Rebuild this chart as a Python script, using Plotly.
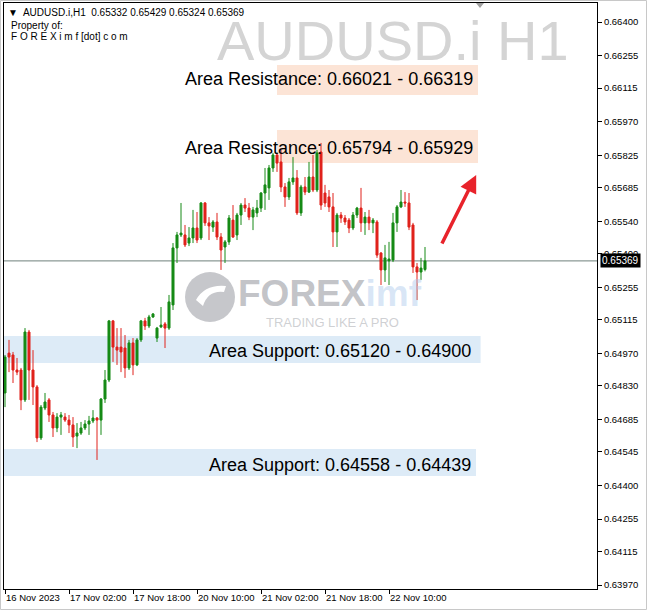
import plotly.graph_objects as go

# ---------------- data (AUDUSD.i H1) ----------------
opens = [0.64799,0.64971,0.64963,0.64898,0.64898,0.64769,0.65062,0.64898,0.64825,0.64605,
         0.64734,0.64769,0.64704,0.64648,0.64695,0.64695,0.64682,0.64661,0.64613,0.64626,
         0.64648,0.64665,0.64678,0.64691,0.64682,0.64773,0.64855,0.65110,0.64997,0.64997,
         0.64993,0.64907,0.65015,0.64920,0.65028,0.65110,0.65088,0.65127,0.65036,0.65084,
         0.65097,0.65079,0.65179,0.65425,0.65481,0.65481,0.65446,0.65468,0.65511,0.65468,
         0.65619,0.65533,0.65515,0.65537,0.65472,0.65429,0.65451,0.65545,0.65481,0.65567,
         0.65610,0.65597,0.65558,0.65576,0.65597,0.65662,0.65684,0.65770,0.65826,0.65796,
         0.65688,0.65645,0.65710,0.65727,0.65576,0.65688,0.65666,0.65731,0.65675,0.65839,
         0.65662,0.65645,0.65602,0.65494,0.65567,0.65554,0.65545,0.65511,0.65567,0.65597,
         0.65533,0.65558,0.65533,0.65537,0.65403,0.65330,0.65369,0.65373,0.65533,0.65602,
         0.65623,0.65619,0.65524,0.65343,0.65321,0.65332]
highs = [0.64963,0.65028,0.64976,0.64950,0.64907,0.65079,0.65071,0.64984,0.64833,0.64747,
         0.64799,0.64777,0.64717,0.64712,0.64717,0.64712,0.64704,0.64695,0.64669,0.64674,
         0.64682,0.64700,0.64725,0.64695,0.64777,0.64898,0.65114,0.65114,0.65079,0.65079,
         0.65049,0.65028,0.65036,0.65036,0.65114,0.65123,0.65136,0.65144,0.65084,0.65170,
         0.65105,0.65222,0.65446,0.65494,0.65619,0.65524,0.65515,0.65589,0.65580,0.65623,
         0.65623,0.65558,0.65545,0.65576,0.65489,0.65459,0.65567,0.65610,0.65576,0.65619,
         0.65640,0.65619,0.65602,0.65632,0.65666,0.65770,0.65783,0.65835,0.65835,0.65848,
         0.65705,0.65727,0.65817,0.65761,0.65697,0.65731,0.65796,0.65826,0.65848,0.65878,
         0.65697,0.65675,0.65662,0.65576,0.65580,0.65567,0.65554,0.65580,0.65602,0.65684,
         0.65580,0.65589,0.65554,0.65545,0.65407,0.65438,0.65451,0.65576,0.65610,0.65675,
         0.65666,0.65662,0.65533,0.65360,0.65382,0.65429]
lows = [0.64738,0.64889,0.64842,0.64876,0.64725,0.64760,0.64769,0.64747,0.64587,0.64596,
        0.64725,0.64674,0.64609,0.64630,0.64618,0.64674,0.64626,0.64566,0.64561,0.64618,
        0.64639,0.64618,0.64669,0.64510,0.64618,0.64756,0.64846,0.64933,0.64920,0.64889,
        0.64864,0.64898,0.64876,0.64915,0.65019,0.65071,0.65079,0.65123,0.65019,0.65079,
        0.64993,0.65071,0.65157,0.65360,0.65472,0.65429,0.65433,0.65446,0.65446,0.65459,
        0.65520,0.65459,0.65494,0.65459,0.65330,0.65360,0.65438,0.65468,0.65459,0.65524,
        0.65580,0.65545,0.65502,0.65558,0.65580,0.65589,0.65632,0.65753,0.65753,0.65666,
        0.65602,0.65632,0.65697,0.65567,0.65563,0.65653,0.65662,0.65666,0.65666,0.65589,
        0.65602,0.65580,0.65429,0.65429,0.65533,0.65524,0.65489,0.65502,0.65554,0.65494,
        0.65481,0.65502,0.65489,0.65382,0.65265,0.65278,0.65265,0.65364,0.65494,0.65597,
        0.65602,0.65502,0.65317,0.65200,0.65287,0.65324]
closes = [0.64954,0.64954,0.64898,0.64889,0.64769,0.65062,0.64898,0.64825,0.64605,0.64738,
          0.64760,0.64704,0.64648,0.64695,0.64704,0.64682,0.64661,0.64609,0.64626,0.64648,
          0.64665,0.64678,0.64691,0.64682,0.64773,0.64855,0.65110,0.64997,0.64984,0.64976,
          0.64907,0.65015,0.64920,0.65028,0.65110,0.65088,0.65127,0.65140,0.65079,0.65092,
          0.65079,0.65192,0.65425,0.65481,0.65489,0.65438,0.65468,0.65511,0.65459,0.65619,
          0.65533,0.65520,0.65537,0.65472,0.65416,0.65451,0.65554,0.65472,0.65567,0.65610,
          0.65597,0.65558,0.65589,0.65597,0.65662,0.65697,0.65770,0.65826,0.65791,0.65688,
          0.65645,0.65710,0.65727,0.65576,0.65688,0.65666,0.65731,0.65675,0.65835,0.65610,
          0.65619,0.65602,0.65494,0.65567,0.65554,0.65537,0.65511,0.65567,0.65597,0.65533,
          0.65558,0.65533,0.65545,0.65394,0.65330,0.65382,0.65377,0.65533,0.65602,0.65623,
          0.65619,0.65515,0.65343,0.65321,0.65338,0.65369]
bar_index = list(range(len(opens)))

time_tick_bars = [0, 16, 32, 48, 64, 80, 96]
time_tick_labels = ["16 Nov 2023", "17 Nov 02:00", "17 Nov 18:00", "20 Nov 10:00",
                    "21 Nov 02:00", "21 Nov 18:00", "22 Nov 10:00"]

price_ticks = [0.66400, 0.66255, 0.66115, 0.65970, 0.65825, 0.65685, 0.65540, 0.65400, 0.65255,
               0.65115, 0.64970, 0.64830, 0.64685, 0.64545, 0.64400, 0.64255, 0.64115, 0.63970]
price_tick_labels = ["%.5f" % v for v in price_ticks]

last_price = 0.65369
header_ohlc = "AUDUSD.i,H1  0.65332 0.65429 0.65324 0.65369"

resistance_labels = ["Area Resistance: 0.66021 - 0.66319", "Area Resistance: 0.65794 - 0.65929"]
resistance_top = [0.66214, 0.65934]
resistance_bottom = [0.66085, 0.65791]
support_labels = ["Area Support: 0.65120 - 0.64900", "Area Support: 0.64558 - 0.64439"]
support_top = [0.65045, 0.64557]
support_bottom = [0.64928, 0.64441]

# ---------------- style ----------------
GREEN = "#168a16"
RED = "#e0221c"
PEACH = "#fce4d6"
LBLUE = "#ddebf7"
FONT = "Liberation Sans"

W, H = 648, 611
ML, MR, MT, MB = 4, 51, 3, 22
PW, PH = W - ML - MR, H - MT - MB

def px(xp):
    return (xp - ML) / PW

def py(yp):
    return (H - MB - yp) / PH

fig = go.Figure()

fig.add_trace(go.Candlestick(
    x=bar_index, open=opens, high=highs, low=lows, close=closes,
    increasing=dict(line=dict(color=GREEN, width=1), fillcolor=GREEN),
    decreasing=dict(line=dict(color=RED, width=1), fillcolor=RED),
    whiskerwidth=0, showlegend=False, hoverinfo="skip"))

shapes = []
for t, b in zip(resistance_top, resistance_bottom):
    shapes.append(dict(type="rect", xref="x", yref="y", x0=68, x1=118.25, y0=b, y1=t,
                       fillcolor=PEACH, line=dict(width=0), layer="below"))
sup_x1 = [118.9, 117.75]
for (t, b), x1 in zip(zip(support_top, support_bottom), sup_x1):
    shapes.append(dict(type="rect", xref="x", yref="y", x0=-0.25, x1=x1, y0=b, y1=t,
                       fillcolor=LBLUE, line=dict(width=0), layer="below"))
shapes.append(dict(type="line", xref="paper", yref="y", x0=0, x1=1, y0=last_price, y1=last_price,
                   line=dict(color="#6f817c", width=1), layer="below"))
shapes.append(dict(type="circle", xref="paper", yref="paper",
                   x0=px(185), x1=px(235), y0=py(322), y1=py(272),
                   fillcolor="rgba(160,162,168,0.6)", line=dict(width=0), layer="below"))
shapes.append(dict(type="path", xref="paper", yref="paper", layer="below",
                   path="M %f %f Q %f %f %f %f L %f %f Q %f %f %f %f Z" % (
                       px(196), py(300), px(205), py(284), px(226), py(286),
                       px(224), py(292), px(208), py(290), px(203), py(306)),
                   fillcolor="white", line=dict(width=0)))
shapes.append(dict(type="path", xref="paper", yref="paper",
                   path="M %f %f L %f %f L %f %f Z" % (px(476), py(3), px(484), py(3), px(480), py(8)),
                   fillcolor="#a0a0a0", line=dict(width=0)))
shapes.append(dict(type="rect", xref="paper", yref="paper", x0=px(0.5), x1=px(646.5), y0=py(609.5), y1=py(0.5),
                   line=dict(color="#c8c8c8", width=1), fillcolor="rgba(0,0,0,0)"))

annotations = []
annotations.append(dict(xref="paper", yref="paper", x=px(571), y=py(40), xanchor="right", yanchor="middle",
                        text="AUDUSD.i H1", showarrow=False,
                        font=dict(family=FONT, size=56, color="#d4d4d4")))
annotations.append(dict(xref="paper", yref="paper", x=px(236), y=py(294), xanchor="left", yanchor="middle",
                        text="<b>FOREX</b><b><span style='color:rgba(170,200,235,0.7)'>imf</span></b>",
                        showarrow=False, font=dict(family=FONT, size=37, color="rgba(160,162,168,0.65)")))
annotations.append(dict(xref="paper", yref="paper", x=px(332), y=py(322), xanchor="center", yanchor="middle",
                        text="TRADING LIKE A PRO", showarrow=False,
                        font=dict(family=FONT, size=13, color="rgba(175,177,182,0.6)")))
res_text_y = [py(79), py(148)]
for lab, yy in zip(resistance_labels, res_text_y):
    annotations.append(dict(xref="x", yref="paper", x=117.6, y=yy, xanchor="right", yanchor="middle",
                            text=lab, showarrow=False, font=dict(family=FONT, size=18, color="black")))
sup_text_y = [py(351), py(465)]
for lab, yy in zip(support_labels, sup_text_y):
    annotations.append(dict(xref="x", yref="paper", x=116.9, y=yy, xanchor="right", yanchor="middle",
                            text=lab, showarrow=False, font=dict(family=FONT, size=18, color="black")))
annotations.append(dict(xref="x", yref="y", x=117.8, y=0.65740, ax=-35, ay=70, text="",
                        showarrow=True, arrowhead=2, arrowsize=1.0, arrowwidth=3.5, arrowcolor="#e8232b"))
annotations.append(dict(xref="paper", yref="y", x=1.0, y=last_price, xanchor="left", yanchor="middle",
                        xshift=3, text="0.65369", showarrow=False, bgcolor="black", borderpad=1,
                        font=dict(family=FONT, size=10, color="white")))
annotations.append(dict(xref="paper", yref="paper", x=px(6), y=py(12), xanchor="left", yanchor="middle",
                        text="\u25bc  " + header_ohlc, showarrow=False,
                        font=dict(family=FONT, size=10, color="black")))
annotations.append(dict(xref="paper", yref="paper", x=px(9), y=py(25), xanchor="left", yanchor="middle",
                        text="Property of:", showarrow=False, font=dict(family=FONT, size=10, color="black")))
annotations.append(dict(xref="paper", yref="paper", x=px(9), y=py(37), xanchor="left", yanchor="middle",
                        text="F O R E X i m f [dot] c o m", showarrow=False,
                        font=dict(family=FONT, size=10, color="black")))

fig.update_layout(
    width=W, height=H, margin=dict(l=ML, r=MR, t=MT, b=MB, autoexpand=False),
    paper_bgcolor="white", plot_bgcolor="white",
    showlegend=False, boxgap=0.28,
    shapes=shapes, annotations=annotations,
    xaxis=dict(range=[-0.25, 148], rangeslider=dict(visible=False), showgrid=False, zeroline=False,
               tickmode="array", tickvals=time_tick_bars, ticktext=time_tick_labels,
               ticks="outside", ticklen=4, tickcolor="black", ticklabelposition="outside right",
               tickangle=0, automargin=False,
               showline=True, linecolor="black", linewidth=1, mirror=True,
               tickfont=dict(family=FONT, size=9.5, color="black")),
    yaxis=dict(range=[0.63953, 0.66482], side="right", showgrid=False, zeroline=False,
               tickmode="array", tickvals=price_ticks, ticktext=price_tick_labels,
               ticks="outside", ticklen=4, tickcolor="black", automargin=False,
               showline=True, linecolor="black", linewidth=1, mirror=True,
               tickfont=dict(family=FONT, size=9.5, color="black")),
)

fig.write_html("out.html", config={"displayModeBar": False},
               post_script="document.body.style.margin='0px';document.body.style.overflow='hidden';")
